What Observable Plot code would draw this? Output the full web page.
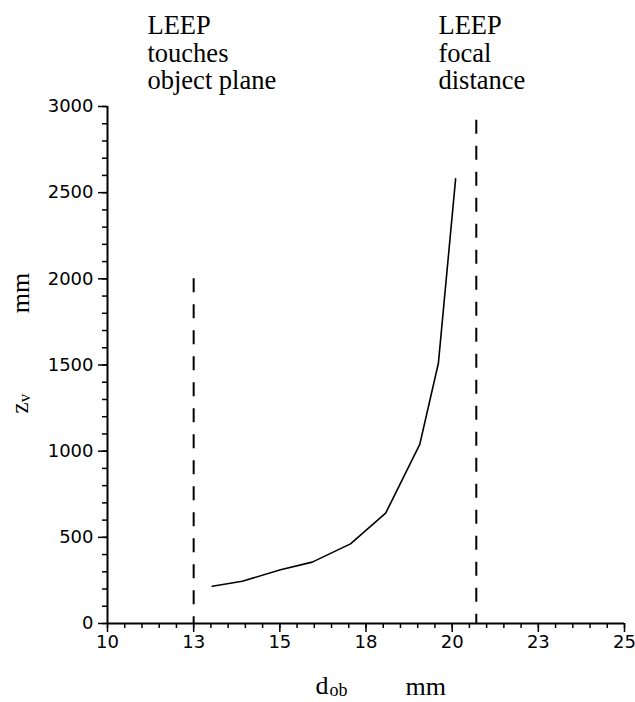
<!DOCTYPE html>
<html>
<head>
<meta charset="utf-8">
<script src="https://cdn.jsdelivr.net/npm/d3@7"></script>
<script src="https://cdn.jsdelivr.net/npm/@observablehq/plot@0.6"></script>
<style>
  html, body { margin: 0; padding: 0; background: #fff; }
</style>
</head>
<body>
<div id="chart"></div>
<script>
// ---- data ----
const dob = [13.04, 13.91, 15.02, 15.94, 17.05, 18.07, 19.06, 19.60, 20.10];
const zv  = [216, 245, 312, 356, 462, 640, 1039, 1510, 2580];

const touchLineX = 12.5, touchLineTop = 2000;
const focalLineX = 20.7, focalLineTop = 2920;

const xTickValues = [10, 12.5, 15, 17.5, 20, 22.5, 25];
const xTickLabels = ["10", "13", "15", "18", "20", "23", "25"];
const xMinorTicks = d3.range(10, 25.001, 0.5);
const yTickValues = [0, 500, 1000, 1500, 2000, 2500, 3000];
const yMinorTicks = d3.range(0, 3000.1, 100);

const leftNote = "LEEP\ntouches\nobject plane";
const rightNote = "LEEP\nfocal\ndistance";

const curve = dob.map((d, i) => ({dob: d, zv: zv[i]}));
const serif = "Liberation Serif, Times New Roman, serif";

const plot = Plot.plot({
  width: 635,
  height: 702,
  marginTop: 106,
  marginBottom: 79,
  marginLeft: 107,
  marginRight: 11,
  style: {fontFamily: "DejaVu Sans, sans-serif", fontSize: "18px", color: "black", background: "white"},
  x: {domain: [10, 25]},
  y: {domain: [0, 3000]},
  marks: [
    // minor ticks
    Plot.axisX({ticks: xMinorTicks, tickSize: 5, tickFormat: () => "", label: null, stroke: "black", strokeWidth: 1.5}),
    Plot.axisY({ticks: yMinorTicks, tickSize: 5, tickFormat: () => "", label: null, stroke: "black", strokeWidth: 1.5}),
    // major ticks
    Plot.axisX({ticks: xTickValues, tickSize: 9, tickPadding: 3, label: null, stroke: "black", strokeWidth: 1.5,
      fill: "black", fontSize: 18,
      tickFormat: d => xTickLabels[xTickValues.indexOf(d)]}),
    Plot.axisY({ticks: yTickValues, tickSize: 9, tickPadding: 5, label: null, stroke: "black", strokeWidth: 1.5,
      fill: "black", fontSize: 18, tickFormat: d => String(d)}),
    // axis lines
    Plot.ruleY([0], {stroke: "black", strokeWidth: 2}),
    Plot.ruleX([10], {stroke: "black", strokeWidth: 2}),
    // dashed reference lines
    Plot.ruleX([touchLineX], {y1: touchLineTop, y2: 0, stroke: "black", strokeWidth: 2, strokeDasharray: "14,12"}),
    Plot.ruleX([focalLineX], {y1: focalLineTop, y2: 0, stroke: "black", strokeWidth: 2, strokeDasharray: "14,12"}),
    // curve
    Plot.line(curve, {x: "dob", y: "zv", stroke: "black", strokeWidth: 1.6}),
    // annotations
    Plot.text([leftNote], {frameAnchor: "top-left", textAnchor: "start", lineAnchor: "top", lineHeight: 1.04,
      dx: 40, dy: -92, fontSize: 26.5, fontFamily: serif, fill: "black"}),
    Plot.text([rightNote], {frameAnchor: "top-left", textAnchor: "start", lineAnchor: "top", lineHeight: 1.04,
      dx: 331, dy: -92, fontSize: 26.5, fontFamily: serif, fill: "black"}),
    // x axis label: d_ob  mm
    Plot.text(["d"], {frameAnchor: "bottom-left", textAnchor: "start", lineAnchor: "middle",
      dx: 208, dy: 62, fontSize: 26, fontFamily: serif, fill: "black"}),
    Plot.text(["ob"], {frameAnchor: "bottom-left", textAnchor: "start", lineAnchor: "middle",
      dx: 222, dy: 67, fontSize: 18, fontFamily: serif, fill: "black"}),
    Plot.text(["mm"], {frameAnchor: "bottom-left", textAnchor: "start", lineAnchor: "middle",
      dx: 298, dy: 63, fontSize: 26, fontFamily: serif, fill: "black"}),
    // y axis label: z_v  mm (rotated)
    Plot.text(["z"], {frameAnchor: "left", textAnchor: "middle", lineAnchor: "middle", rotate: -90,
      dx: -88, dy: 43, fontSize: 25, fontFamily: serif, fill: "black"}),
    Plot.text(["v"], {frameAnchor: "left", textAnchor: "middle", lineAnchor: "middle", rotate: -90,
      dx: -83, dy: 33, fontSize: 17, fontFamily: serif, fill: "black"}),
    Plot.text(["mm"], {frameAnchor: "left", textAnchor: "middle", lineAnchor: "middle", rotate: -90,
      dx: -87, dy: -72, fontSize: 26, fontFamily: serif, fill: "black"})
  ]
});
document.getElementById("chart").appendChild(plot);
</script>
</body>
</html>
